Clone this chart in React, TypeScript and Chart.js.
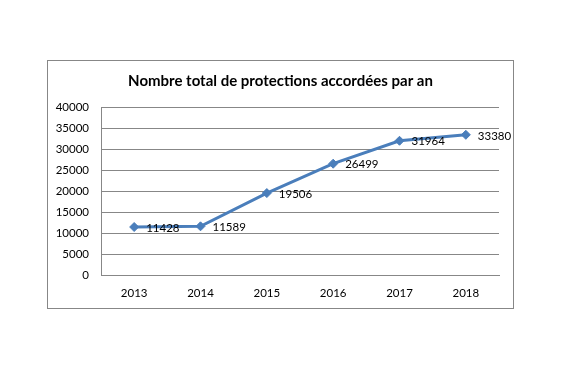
import React, { useEffect, useRef } from "react";
import { Chart, registerables } from "chart.js";

Chart.register(...registerables);

const years = ["2013", "2014", "2015", "2016", "2017", "2018"];
const protections = [11428, 11589, 19506, 26499, 31964, 33380];
const titleText = "Nombre total de protections accordées par an";
const yMin = 0;
const yMax = 40000;
const yStep = 5000;

const FONT = "Lato, 'Liberation Sans', sans-serif";

const frameAndLabels = {
  id: "frameAndLabels",
  beforeDraw(chart: any) {
    const ctx = chart.ctx;
    ctx.save();
    ctx.fillStyle = "#ffffff";
    ctx.fillRect(0, 0, chart.width, chart.height);
    ctx.strokeStyle = "#878787";
    ctx.lineWidth = 1;
    ctx.strokeRect(47.5, 60.5, 466, 248);
    ctx.font = `bold 15px ${FONT}`;
    ctx.fillStyle = "#000000";
    ctx.textAlign = "center";
    ctx.textBaseline = "middle";
    ctx.fillText(titleText, 280.5, 81);
    ctx.restore();
  },
  afterDatasetsDraw(chart: any) {
    const ctx = chart.ctx;
    const meta = chart.getDatasetMeta(0);
    ctx.save();
    ctx.font = `11.5px ${FONT}`;
    ctx.fillStyle = "#000000";
    ctx.textBaseline = "middle";
    ctx.textAlign = "left";
    meta.data.forEach((pt: any, i: number) => {
      const v = chart.data.datasets[0].data[i];
      ctx.fillText(String(v), pt.x + 12, pt.y + 1);
    });
    ctx.restore();
  },
};

export default function App() {
  const ref = useRef<HTMLCanvasElement | null>(null);
  useEffect(() => {
    if (!ref.current) return;
    const chart = new Chart(ref.current, {
      type: "line",
      data: {
        labels: years,
        datasets: [
          {
            data: protections,
            borderColor: "#4A7EBB",
            backgroundColor: "#4A7EBB",
            borderWidth: 3,
            pointStyle: "rectRot",
            pointRadius: 4.5,
            pointBorderWidth: 1,
            tension: 0,
          },
        ],
      },
      plugins: [frameAndLabels],
      options: {
        animation: false,
        responsive: false,
        maintainAspectRatio: false,
        layout: { padding: { left: 47, right: 80, top: 107, bottom: 64 } },
        plugins: {
          legend: { display: false },
          tooltip: { enabled: false },
          title: { display: false },
        },
        scales: {
          x: {
            type: "category",
            offset: true,
            grid: { display: false, drawTicks: false },
            border: { display: true, color: "#878787", width: 1 },
            ticks: {
              color: "#000000",
              font: { family: FONT, size: 11.5 },
              padding: 11,
              maxRotation: 0,
            },
            afterFit(scale: any) {
              scale.height = 33;
            },
          },
          y: {
            min: yMin,
            max: yMax,
            grid: { color: "#878787", drawTicks: false, lineWidth: 1 },
            border: { display: true, color: "#878787", width: 1 },
            ticks: {
              stepSize: yStep,
              color: "#000000",
              font: { family: FONT, size: 11.5 },
              padding: 12,
              callback: (v: any) => String(v),
            },
            afterFit(scale: any) {
              scale.width = 54;
            },
          },
        },
      },
    } as any);
    return () => chart.destroy();
  }, []);
  return (
    <div style={{ position: "absolute", left: 0, top: 0, width: 579, height: 372, background: "#fff" }}>
      <canvas ref={ref} width={579} height={372} style={{ width: 579, height: 372, display: "block" }} />
    </div>
  );
}
